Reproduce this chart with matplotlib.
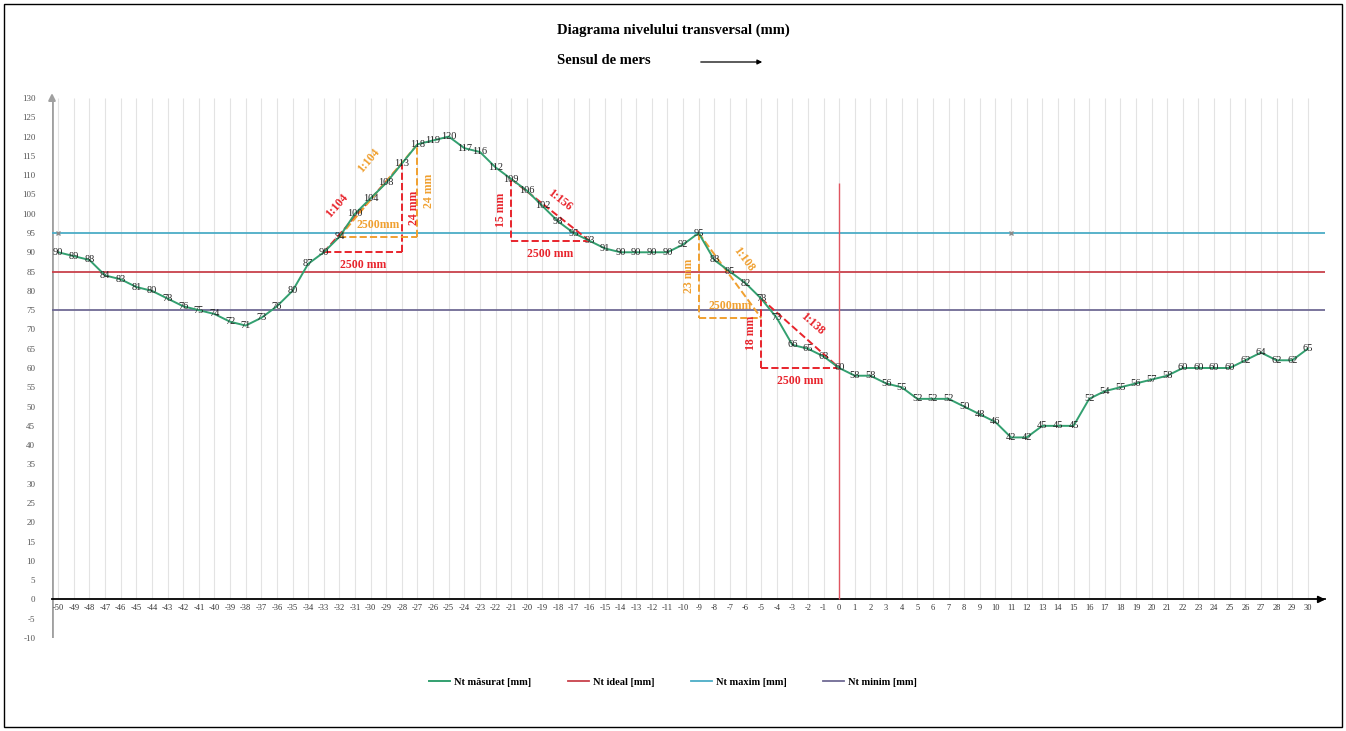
import matplotlib.pyplot as plt
import numpy as np

plt.rcParams['font.family'] = ['Liberation Serif', 'DejaVu Serif']

# ---- DATE ----
pozitii = list(range(-50, 31))   # etichete axa X
nt_masurat = [90, 89, 88, 84, 83, 81, 80, 78, 76, 75, 74, 72, 71, 73, 76, 80, 87, 90,
              94, 100, 104, 108, 113, 118, 119, 120, 117, 116, 112, 109, 106, 102, 98, 95,
              93, 91, 90, 90, 90, 90, 92, 95,
              88, 85, 82, 78, 73, 66, 65, 63, 60,
              58, 58, 56, 55, 52, 52, 52, 50, 48, 46, 42, 42, 45, 45, 45, 52, 54, 55, 56,
              57, 58, 60, 60, 60, 60, 62, 64, 62, 62, 65]
nt_ideal = 85
nt_maxim = 95
nt_minim = 75

# triunghiuri de panta:
# (x start, x final, index valoare 1, index valoare 2, culoare, panta, inaltime, lungime, offset panta px)
triunghiuri = [
    (17, 22, 17, 22, 'red', '1:104', '24 mm', '2500 mm', (-26, 2)),
    (18, 23, 18, 23, 'orange', '1:104', '24 mm', '2500mm', (-10, 30)),
    (29, 34, 29, 34, 'red', '1:156', '15 mm', '2500 mm', (9, 10)),
    (41, 45, 41, 46, 'orange', '1:108', '23 mm', '2500mm', (14, 16)),
    (45, 50, 45, 50, 'red', '1:138', '18 mm', '2500 mm', (12, 9)),
]

C_MAS = '#33a070'
C_IDEAL = '#c8414b'
C_MAX = '#4bacc6'
C_MIN = '#6f6a94'
C_RED = '#e8242c'
C_ORG = '#f0a030'

x = np.arange(len(nt_masurat))

fig = plt.figure(figsize=(13.46, 7.31), dpi=100)
ax = fig.add_axes([52 / 1346, 1 - 638 / 731, (1325 - 52) / 1346, (638 - 98) / 731])
ax.set_xlim(-0.4, 81.1)
ax.set_ylim(-10, 130)

# gridlines verticale
ax.vlines(x, 0, 130, color='#e3e3e3', lw=0.8, zorder=0)

ax.axhline(nt_maxim, color=C_MAX, lw=1.3, label='Nt maxim [mm]', zorder=2)
ax.axhline(nt_ideal, color=C_IDEAL, lw=1.3, label='Nt ideal [mm]', zorder=2)
ax.axhline(nt_minim, color=C_MIN, lw=1.3, label='Nt minim [mm]', zorder=2)
ax.plot([x[0], x[61]], [nt_maxim, nt_maxim], ls='none', marker='x', ms=3, color='#8a8a8a', zorder=3)

ax.plot(x, nt_masurat, color=C_MAS, lw=1.4, label='Nt măsurat [mm]', zorder=4)
for xi, v in zip(x, nt_masurat):
    ax.text(xi, v, str(v), fontsize=7.5, ha='center', va='center', color='#222222', zorder=5)

# linia verticala la 0
ax.vlines(x[50], 0, 108, color='#e05561', lw=1.0, zorder=3)

# triunghiuri
px = 72 / 100
for i0, i1, a, b, c, panta, h, l, off in triunghiuri:
    col = C_RED if c == 'red' else C_ORG
    v0, v1 = nt_masurat[a], nt_masurat[b]
    st = dict(color=col, fontsize=8.5, fontweight='bold')
    ax.plot([i0, i1], [v0, v1], ls='--', color=col, lw=1.4, zorder=3)
    lo = min(v0, v1)
    ax.plot([i0, i1], [lo, lo], ls='--', color=col, lw=1.4, zorder=3)
    xv = i1 if v1 > v0 else i0
    ax.plot([xv, xv], [v0, v1], ls='--', color=col, lw=1.4, zorder=3)
    # lungime
    if c == 'red':
        ax.annotate(l, ((i0 + i1) / 2, lo), xytext=(0, -13 * px), textcoords='offset points',
                    ha='center', va='center', **st)
    else:
        ax.annotate(l, ((i0 + i1) / 2, lo), xytext=(0, 12 * px), textcoords='offset points',
                    ha='center', va='center', **st)
    # inaltime
    dx = 12 if v1 > v0 else -10
    ax.annotate(h, (xv, (v0 + v1) / 2), xytext=(dx * px, 0), textcoords='offset points',
                rotation=90, ha='center', va='center', **st)
    # panta
    ang = np.degrees(np.arctan2((v1 - v0) * 3.863, (i1 - i0) * 15.65))
    ax.annotate(panta, ((i0 + i1) / 2, (v0 + v1) / 2), xytext=(off[0] * px, off[1] * px),
                textcoords='offset points', rotation=ang, ha='center', va='center', **st)

# axe
for s in ['top', 'right', 'left']:
    ax.spines[s].set_visible(False)
ax.spines['bottom'].set_position(('data', 0))
ax.spines['bottom'].set_linewidth(1.3)
ax.axvline(-0.4, color='#a0a0a0', lw=2.0, zorder=1)
ax.annotate('', xy=(81.3, 0), xytext=(80.5, 0),
            arrowprops=dict(arrowstyle='-|>', color='black', lw=1.3), annotation_clip=False)
ax.annotate('', xy=(-0.4, 132), xytext=(-0.4, 129),
            arrowprops=dict(arrowstyle='-|>', color='#a0a0a0', lw=1.5), annotation_clip=False)

ax.set_xticks(x)
ax.set_xticklabels([str(p) for p in pozitii], fontsize=6, color='#333333')
ax.set_yticks(range(-10, 131, 5))
ax.set_yticklabels([str(v) for v in range(-10, 131, 5)], fontsize=6.5, color='#555555')
ax.tick_params(axis='both', length=0)
ax.tick_params(axis='y', pad=12)
ax.tick_params(axis='x', pad=3)

# titlu
fig.text(0.5, 1 - 30 / 731, 'Diagrama nivelului transversal (mm)', ha='center', va='center',
         fontsize=10.5, fontweight='bold')
fig.text(604 / 1346, 1 - 60 / 731, 'Sensul de mers', ha='center', va='center',
         fontsize=10.5, fontweight='bold')
ax.annotate('', xy=(765 / 1346, 1 - 62 / 731), xytext=(698 / 1346, 1 - 62 / 731),
            xycoords='figure fraction', textcoords='figure fraction',
            arrowprops=dict(arrowstyle='-|>', color='black', lw=0.9, mutation_scale=7))

# legenda
h, lab = ax.get_legend_handles_labels()
ordine = [3, 1, 0, 2]
fig.legend([h[k] for k in ordine], [lab[k] for k in ordine], loc='center',
           bbox_to_anchor=(0.5, 1 - 682 / 731), ncol=4, frameon=False,
           prop={'size': 7.5, 'weight': 'bold'}, handlelength=2.0, handletextpad=0.4,
           columnspacing=3.5)

rect = plt.Rectangle((0.003, 0.005), 0.994, 0.99, transform=fig.transFigure,
                     fill=False, edgecolor='black', lw=1)
fig.patches.append(rect)

plt.savefig('out.png', dpi=100)
